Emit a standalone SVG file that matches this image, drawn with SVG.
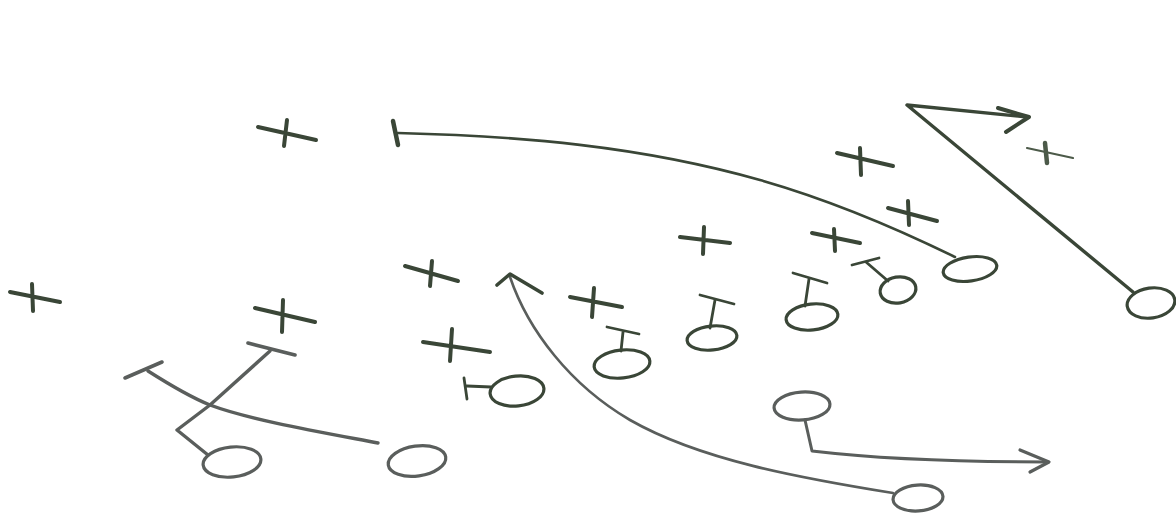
<svg xmlns="http://www.w3.org/2000/svg" width="1176" height="516" viewBox="0 0 1176 516">
<style>
.ink{fill:none;stroke:#3a4637;stroke-linecap:round;stroke-linejoin:round}
.x{stroke-width:4}
.ln{stroke-width:2.6}
.o{stroke-width:3.2}
.tk{stroke-width:2.8}
.gray{stroke:#5a5e5c}
</style>
<rect width="1176" height="516" fill="#ffffff"/>
<g id="defense">
<g id="x1" class="ink x"><path d="M258 127 L316 140 M287 120 L284 146"/></g>
<g id="x2" class="ink x"><path d="M837 153 L893 166 M860 148 L861 175"/></g>
<g id="x3" class="ink" style="stroke-width:2.2;stroke:#4c5a49"><path d="M1027 148 L1073 158"/><path d="M1045 143 L1047 163" style="stroke-width:4.5"/></g>
<g id="x4" class="ink x"><path d="M888 208 L937 221 M908 201 L909 225"/></g>
<g id="x5" class="ink x"><path d="M680 237 L730 243 M704 227 L703 254"/></g>
<g id="x6" class="ink x"><path d="M812 233 L860 243 M834 229 L835 251"/></g>
<g id="x7" class="ink x"><path d="M405 266 L458 281 M432 261 L430 286"/></g>
<g id="x8" class="ink x"><path d="M570 297 L622 307 M594 288 L592 317"/></g>
<g id="x9" class="ink x"><path d="M423 342 L490 352 M452 329 L450 361"/></g>
<g id="x10" class="ink x"><path d="M255 308 L315 322 M283 300 L282 332"/></g>
<g id="x11" class="ink x"><path d="M10 292 L60 302 M32 284 L33 311"/></g>
</g>
<g id="offense">
<g id="o-top" class="ink o"><ellipse cx="970" cy="269" rx="27" ry="12" transform="rotate(-8 970 269)"/></g>
<g id="o-far" class="ink o"><ellipse cx="1151" cy="303" rx="24" ry="15" transform="rotate(-8 1151 303)"/></g>
<g id="o-g1" class="ink o"><path class="tk" d="M852 265 L879 258 M866 262 L888 281"/><ellipse cx="898" cy="290" rx="18" ry="13" transform="rotate(-10 898 290)"/></g>
<g id="o-g2" class="ink o"><path class="tk" d="M793 273 L827 283 M809 279 L805 306"/><ellipse cx="812" cy="317" rx="26" ry="13" transform="rotate(-6 812 317)"/></g>
<g id="o-g3" class="ink o"><path class="tk" d="M700 295 L734 304 M715 300 L710 328"/><ellipse cx="712" cy="338" rx="25" ry="12" transform="rotate(-6 712 338)"/></g>
<g id="o-g4" class="ink o"><path class="tk" d="M607 327 L639 334 M623 332 L621 351"/><ellipse cx="622" cy="364" rx="28" ry="14" transform="rotate(-6 622 364)"/></g>
<g id="o-g5" class="ink o"><path class="tk" d="M464 378 L467 399 M467 386 L491 387"/><ellipse cx="517" cy="391" rx="27" ry="15" transform="rotate(-6 517 391)"/></g>
<g id="o-back" class="ink o gray"><ellipse cx="802" cy="406" rx="28" ry="14" transform="rotate(-4 802 406)"/></g>
<g id="o-bottom" class="ink o gray"><ellipse cx="918" cy="498" rx="25" ry="13" transform="rotate(-4 918 498)"/></g>
<g id="o-left1" class="ink o gray"><ellipse cx="232" cy="462" rx="29" ry="15" transform="rotate(-6 232 462)"/></g>
<g id="o-left2" class="ink o gray"><ellipse cx="417" cy="461" rx="29" ry="15" transform="rotate(-8 417 461)"/></g>
</g>
<g id="connectors">
<path class="ink" style="stroke-width:4.5" d="M393 121 L398 145"/>
<path class="ink ln" d="M398 133 C520 136 640 146 760 180 C830 200 900 230 955 257"/>
<path class="ink ln" style="stroke-width:3.4" d="M1133 292 L907 105 L1027 117"/>
<path class="ink ln" style="stroke-width:4" d="M998 108 L1029 117 L1006 132"/>
<path class="ink ln gray" d="M893 493 C800 478 700 460 630 420 C570 385 528 330 510 277"/>
<path class="ink ln" style="stroke-width:3.6" d="M497 285 L510 274 L542 293"/>
<path class="ink ln gray" style="stroke-width:3" d="M805 420 L812 451 C880 459 960 462 1048 462"/>
<path class="ink ln gray" style="stroke-width:3.2" d="M1020 450 L1049 462 L1030 472"/>
<path class="ink ln gray" style="stroke-width:3.6" d="M248 343 L295 355"/>
<path class="ink ln gray" style="stroke-width:3.4" d="M270 351 L210 405 L177 430 L208 455"/>
<path class="ink ln gray" style="stroke-width:3.6" d="M125 378 L162 362"/>
<path class="ink ln gray" style="stroke-width:3.4" d="M148 371 C170 385 190 397 210 405 C250 420 320 432 378 443"/>
</g>
</svg>
